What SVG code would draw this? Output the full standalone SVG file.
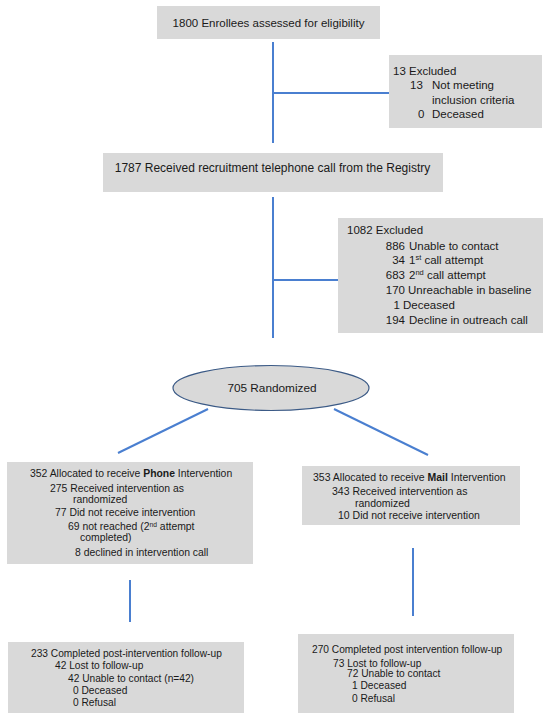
<svg xmlns="http://www.w3.org/2000/svg" width="550" height="720" viewBox="0 0 550 720">
<style>
.box{fill:#d9d9d9;stroke:none}
.t{font-family:"Liberation Sans",Arial,sans-serif;fill:#1a1a1a}
.c{stroke:#4a7fd0;stroke-width:2;fill:none}
.sup{font-size:65%}
</style>
<rect width="550" height="720" fill="#ffffff"/>
<g id="connectors">
<line class="c" x1="273" y1="42" x2="273" y2="143"/>
<line class="c" x1="273" y1="93" x2="390" y2="93"/>
<line class="c" x1="273" y1="197" x2="273" y2="338"/>
<line class="c" x1="273" y1="280" x2="340" y2="280"/>
<line class="c" x1="208" y1="409" x2="118" y2="453"/>
<line class="c" x1="334" y1="409" x2="428" y2="455"/>
<line class="c" x1="130" y1="580" x2="130" y2="622"/>
<line class="c" x1="413" y1="548" x2="413" y2="616"/>
</g>
<g id="n1">
<rect class="box" x="157" y="6" width="223" height="33"/>
<text class="t" x="268.5" y="27" font-size="11.5" text-anchor="middle">1800 Enrollees assessed for eligibility</text>
</g>
<g id="n2">
<rect class="box" x="389" y="55" width="153" height="73"/>
<text class="t" font-size="11.5"><tspan x="393" y="75">13 Excluded</tspan><tspan x="410" y="89">13</tspan><tspan x="432" y="89">Not meeting</tspan><tspan x="432" y="104">inclusion criteria</tspan><tspan x="418" y="118">0</tspan><tspan x="432" y="118">Deceased</tspan></text>
</g>
<g id="n3">
<rect class="box" x="103" y="153" width="340" height="39"/>
<text class="t" x="272.5" y="171.5" font-size="12" text-anchor="middle">1787 Received recruitment telephone call from the Registry</text>
</g>
<g id="n4">
<rect class="box" x="338" y="218" width="205" height="115"/>
<text class="t" font-size="11.5"><tspan x="347" y="234">1082 Excluded</tspan></text>
<text class="t" font-size="11.5" text-anchor="end"><tspan x="405" y="250">886</tspan><tspan x="405" y="264">34</tspan><tspan x="405" y="279">683</tspan><tspan x="405" y="294">170</tspan><tspan x="400" y="309">1</tspan><tspan x="405" y="324">194</tspan></text>
<text class="t" font-size="11.5"><tspan x="409" y="250">Unable to contact</tspan><tspan x="409" y="264">1<tspan class="sup" baseline-shift="super">st</tspan> call attempt</tspan><tspan x="409" y="279">2<tspan class="sup" baseline-shift="super">nd</tspan> call attempt</tspan><tspan x="408" y="294">Unreachable in baseline</tspan><tspan x="403" y="309">Deceased</tspan><tspan x="409" y="324">Decline in outreach call</tspan></text>
</g>
<g id="n5">
<ellipse cx="271" cy="388" rx="98" ry="22.5" fill="#d9d9d9" stroke="#3b5a86" stroke-width="1.2"/>
<text class="t" x="272" y="392" font-size="11.8" text-anchor="middle">705 Randomized</text>
</g>
<g id="n6">
<rect class="box" x="7" y="462" width="246" height="102"/>
<text class="t" font-size="10.4"><tspan x="30" y="477">352 Allocated to receive <tspan font-weight="bold">Phone</tspan> Intervention</tspan><tspan x="50" y="492">275 Received intervention as</tspan><tspan x="73" y="503">randomized</tspan><tspan x="55" y="516">77 Did not receive intervention</tspan><tspan x="68" y="530">69 not reached (2<tspan class="sup" baseline-shift="super">nd</tspan> attempt</tspan><tspan x="80" y="541">completed)</tspan><tspan x="75" y="556">8 declined in intervention call</tspan></text>
</g>
<g id="n7">
<rect class="box" x="302" y="466" width="218" height="59"/>
<text class="t" font-size="10.5"><tspan x="313" y="481">353 Allocated to receive <tspan font-weight="bold">Mail</tspan> Intervention</tspan><tspan x="332" y="495">343 Received intervention as</tspan><tspan x="355" y="507">randomized</tspan><tspan x="338" y="519">10 Did not receive intervention</tspan></text>
</g>
<g id="n8">
<rect class="box" x="8" y="642" width="236" height="71"/>
<text class="t" font-size="10.2"><tspan x="31" y="657">233 Completed post-intervention follow-up</tspan><tspan x="55" y="669">42 Lost to follow-up</tspan><tspan x="68" y="682">42 Unable to contact (n=42)</tspan><tspan x="73" y="694">0 Deceased</tspan><tspan x="73" y="706">0 Refusal</tspan></text>
</g>
<g id="n9">
<rect class="box" x="298" y="634" width="216" height="79"/>
<text class="t" font-size="10.2"><tspan x="312" y="653">270 Completed post intervention follow-up</tspan><tspan x="333" y="667">73 Lost to follow-up</tspan><tspan x="347" y="677">72 Unable to contact</tspan><tspan x="352" y="689">1 Deceased</tspan><tspan x="352" y="702">0 Refusal</tspan></text>
</g>
</svg>
